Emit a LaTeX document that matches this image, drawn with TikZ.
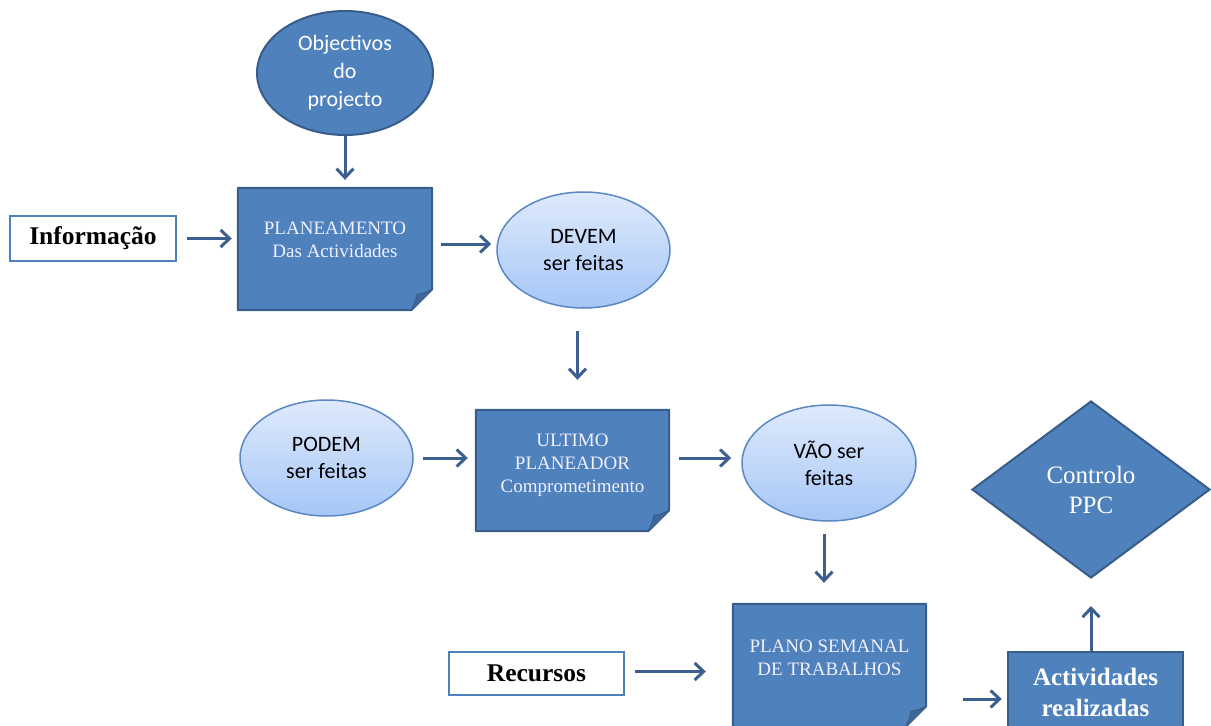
\documentclass[tikz,border=0pt]{standalone}
\usepackage{fontspec}
\setmainfont{Liberation Serif}
\newfontfamily\calfont{Carlito}
\usetikzlibrary{shapes.geometric,arrows.meta,backgrounds}
\definecolor{bfill}{HTML}{4F81BD}
\definecolor{bline}{HTML}{385D8A}
\definecolor{arr}{HTML}{3C5F8F}
\definecolor{ltop}{HTML}{DEEAFC}
\definecolor{lbot}{HTML}{A6C6F6}
\definecolor{lline}{HTML}{5B88C2}
\definecolor{foldc}{HTML}{3F6699}
\newcommand{\raisedtext}[2][12pt]{\raisebox{0pt}[\height][\dimexpr\depth+#1\relax]{\begin{tabular}{@{}c@{}}#2\end{tabular}}}
\newcommand{\foldshape}[1]{%
  \draw[bline, line width=2pt, fill=bfill, line join=round]
    (#1.north west) -- (#1.north east) -- ([yshift=21pt]#1.south east)
    -- ([xshift=-21pt]#1.south east) -- (#1.south west) -- cycle;
  \fill[foldc] ([yshift=21pt]#1.south east)
    .. controls ([xshift=-8pt,yshift=17pt]#1.south east) .. ([xshift=-15pt,yshift=16pt]#1.south east)
    .. controls ([xshift=-17pt,yshift=8pt]#1.south east) .. ([xshift=-21pt]#1.south east) -- cycle;
  \draw[bline, line width=1pt] ([yshift=21pt]#1.south east)
    .. controls ([xshift=-8pt,yshift=17pt]#1.south east) .. ([xshift=-15pt,yshift=16pt]#1.south east)
    .. controls ([xshift=-17pt,yshift=8pt]#1.south east) .. ([xshift=-21pt]#1.south east);
}
\tikzset{
  darkell/.style={ellipse, fill=bfill, draw=bline, line width=2pt, text=white,
    font=\calfont\fontsize{22}{28}\selectfont, align=center, inner sep=0pt},
  lightell/.style={ellipse, top color=ltop, bottom color=lbot, draw=lline, line width=1.5pt,
    text=black, font=\calfont\fontsize{22}{27}\selectfont, align=center, inner sep=0pt},
  foldbox/.style={rectangle, inner sep=0pt, text=white!94!blue,
    font=\fontsize{19}{23}\selectfont, align=center},
  whitebox/.style={rectangle, draw=bfill, line width=2.5pt, fill=white, inner sep=0pt,
    font=\bfseries\fontsize{25.5}{30}\selectfont, text=black},
  darkbox/.style={rectangle, draw=bline, line width=2.5pt, fill=bfill, inner sep=0pt,
    font=\bfseries\fontsize{25}{31}\selectfont, text=white, align=center},
  ctrlshape/.style={diamond, draw=bline, line width=2pt, fill=bfill, inner sep=0pt,
    text=white, font=\fontsize{25}{30}\selectfont, align=center},
  conn/.style={draw=arr, line width=3pt, -{Straight Barb[length=9pt,width=17pt,line width=3pt]}}
}
\begin{document}
\begin{tikzpicture}[x=1pt,y=-1pt]
\useasboundingbox (0,0) rectangle (1211,726);
% nodes
\node[darkell, minimum width=176pt, minimum height=124pt] (obj) at (345,73) {Objectivos\\do\\projecto};
\node[whitebox, minimum width=166pt, minimum height=45pt] (info) at (93,238.5) {Informação};
\node[foldbox, minimum width=194pt, minimum height=122pt] (plan) at (335,249) {\raisedtext[16pt]{PLANEAMENTO\\Das Actividades}};
\node[lightell, minimum width=173pt, minimum height=116pt] (devem) at (583.5,250) {DEVEM\\ser feitas};
\node[lightell, minimum width=173pt, minimum height=116pt] (podem) at (326.5,458) {PODEM\\ser feitas};
\node[foldbox, minimum width=193pt, minimum height=121pt] (ult) at (572.5,470.5) {\raisedtext{ULTIMO\\PLANEADOR\\Comprometimento}};
\node[lightell, minimum width=174pt, minimum height=116pt] (vao) at (829,463) {VÃO ser\\feitas};
\node[whitebox, minimum width=175pt, minimum height=43pt] (rec) at (536.5,673.5) {Recursos};
\node[foldbox, minimum width=193pt, minimum height=123pt] (plano) at (829.5,665.5) {\raisedtext{PLANO SEMANAL\\DE TRABALHOS}};
\node[darkbox, minimum width=175pt, minimum height=80pt] (act) at (1095.5,692) {Actividades\\realizadas};
\node[ctrlshape, minimum width=238pt, minimum height=177pt] (ctrl) at (1091,489.5) {Controlo\\PPC};
% folded boxes shapes
\begin{scope}[on background layer]
\foldshape{plan}
\foldshape{ult}
\foldshape{plano}
\end{scope}
% connectors
\draw[conn, shorten >=8pt] (obj.south) -- (obj.south |- plan.north);
\draw[conn, shorten <=10pt, shorten >=6pt] (info.east) -- (info.east -| plan.west);
\draw[conn, shorten <=9pt, shorten >=5pt] ([yshift=5pt]plan.east) -- ([yshift=5pt]plan.east -| devem.west);
\draw[conn, shorten <=22pt, shorten >=30pt] ([xshift=-6pt]devem.south) -- ([xshift=-6pt]devem.south |- ult.north);
\draw[conn, shorten <=9pt, shorten >=8pt] (podem.east) -- (podem.east -| ult.west);
\draw[conn, shorten <=10pt, shorten >=10pt] ([yshift=12.5pt]ult.east) -- ([yshift=12.5pt]ult.east -| vao.west);
\draw[conn, shorten <=12pt, shorten >=21pt] ([xshift=-5pt]vao.south) -- ([xshift=-5pt]vao.south |- plano.north);
\draw[conn, shorten <=10pt, shorten >=27pt] ([yshift=2pt]rec.east) -- ([yshift=2pt]rec.east -| plano.west);
\draw[conn, shorten <=37pt, shorten >=5pt] ([yshift=-33.5pt]plano.east) -- ([yshift=-33.5pt]plano.east -| act.west);
\draw[conn, shorten >=27pt] ([xshift=-4.5pt]act.north) -- ([xshift=-4.5pt]act.north |- ctrl.south);
\end{tikzpicture}
\end{document}
